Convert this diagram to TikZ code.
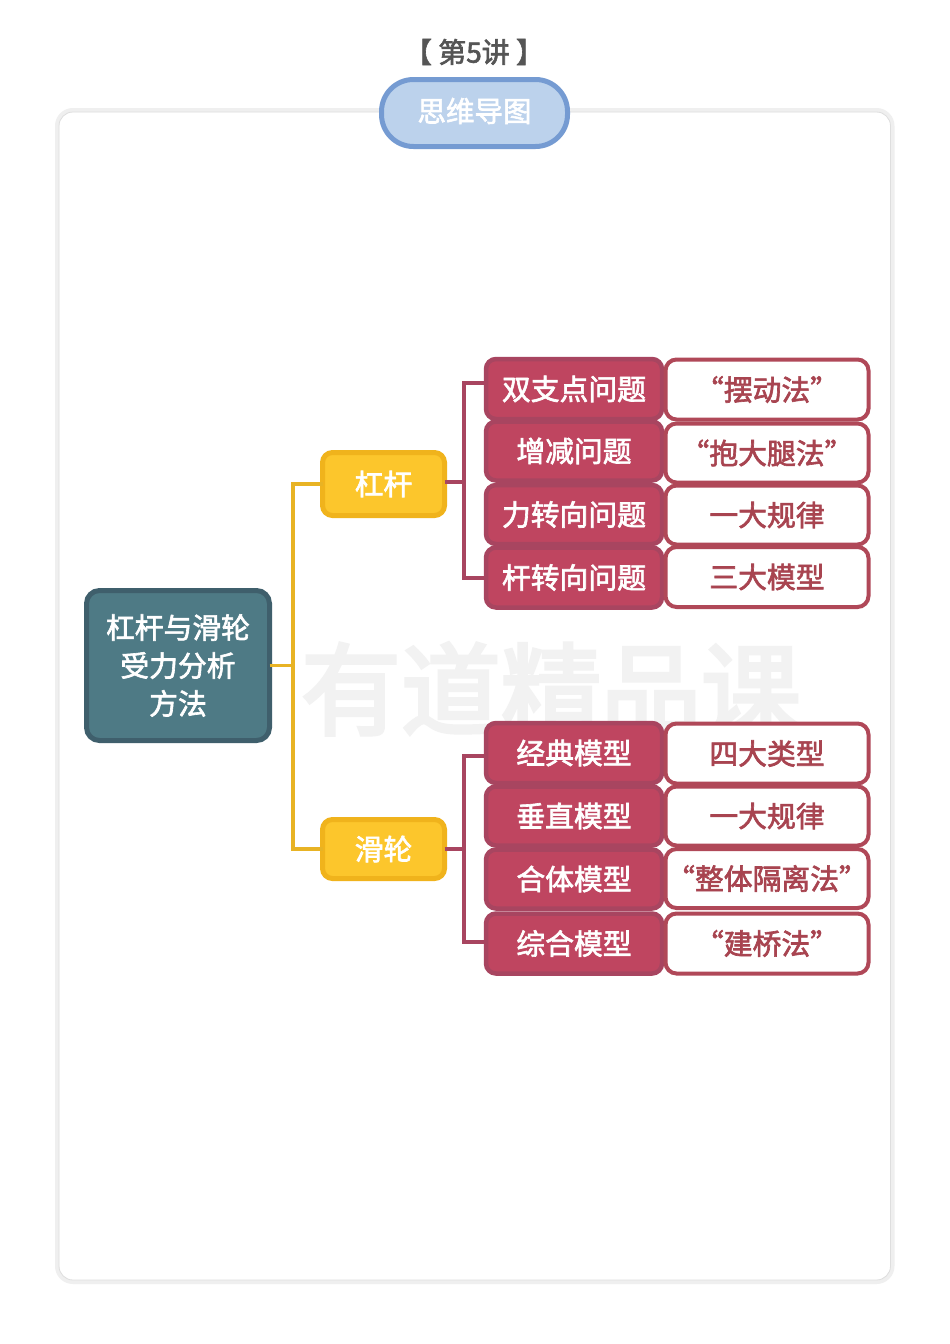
\documentclass[tikz,border=0pt]{standalone}
\usepackage{fontspec}
\setmainfont{Noto Sans CJK SC}
\newfontfamily\medcjk[FakeBold=2.2]{Noto Sans CJK SC}
\newfontfamily\heavycjk[FakeBold=3.5]{Noto Sans CJK SC}
\definecolor{framea}{HTML}{EFEFEF}
\definecolor{frameb}{HTML}{DEDEDE}
\definecolor{pillfill}{HTML}{BCD2EC}
\definecolor{pillline}{HTML}{759BD2}
\definecolor{rootfill}{HTML}{4E7A85}
\definecolor{rootline}{HTML}{3F5F6C}
\definecolor{yelfill}{HTML}{FCC62C}
\definecolor{yelline}{HTML}{F0B31C}
\definecolor{yelconn}{HTML}{E8B324}
\definecolor{redfill}{HTML}{BF4560}
\definecolor{redline}{HTML}{A84560}
\definecolor{whline}{HTML}{B04858}
\definecolor{whtext}{HTML}{A84450}
\definecolor{marktext}{HTML}{F2F2F2}
\definecolor{titletext}{HTML}{555555}
\tikzset{
  x=1pt,y=-1pt,
  base/.style={inner sep=0pt,outer sep=0pt,align=center,font=\medcjk\fontsize{28.8}{38}\selectfont},
  rootbox/.style={base,draw=rootline,fill=rootfill,text=white,line width=5pt,rounded corners=13pt,minimum width=183pt,minimum height=150pt},
  yelbox/.style={base,draw=yelline,fill=yelfill,text=white,line width=5pt,rounded corners=10pt,minimum width=122pt},
  redbox/.style={base,draw=redline,fill=redfill,text=white,line width=4.5pt,rounded corners=10pt,minimum width=176pt},
  whbox/.style={base,draw=whline,fill=white,text=whtext,line width=4pt,rounded corners=11pt,minimum width=203pt},
  yconn/.style={draw=yelconn,line width=3.5pt},
  rconn/.style={draw=redline,line width=4pt},
}
\begin{document}
\begin{tikzpicture}
\useasboundingbox (0,0) rectangle (950,1344);
\fill[white] (0,0) rectangle (950,1344);
% frame
\draw[framea,line width=4pt,rounded corners=16pt] (57,110) rectangle (892.5,1282);
\draw[frameb,line width=0.8pt,rounded corners=14pt] (59,112) rectangle (890.5,1280);
% watermark
\node[inner sep=0pt,text=marktext,font=\heavycjk\fontsize{100}{100}\selectfont] (mark) at (551,689) {有道精品课};
% title and badge
\node[inner sep=0pt,text=titletext,font=\medcjk\fontsize{28}{30}\selectfont] (title) at (474,52) {【 第5讲 】};
\node[base,draw=pillline,fill=pillfill,line width=5pt,rounded corners=32pt,minimum width=186pt,minimum height=67pt] (pill) at (474.5,113) {};
\node[inner sep=0pt,text=white,font=\medcjk\fontsize{28.5}{30}\selectfont] (pilltext) at (474.5,111) {思维导图};
% main nodes
\node[rootbox] (root) at (178,665.5) {杠杆与滑轮\\受力分析\\方法};
\node[yelbox,minimum height=63pt] (g) at (383.5,484) {杠杆};
\node[yelbox,minimum height=59pt] (h) at (383.5,849) {滑轮};
% connectors
\coordinate (sp) at (293,665.5);
\coordinate (c1) at (464,482);
\coordinate (c2) at (464,849);
\coordinate (u1) at (484,383);
\coordinate (u4) at (484,578);
\coordinate (l1) at (484,756);
\coordinate (l4) at (484,942);
\draw[yconn] (root.east) -- (sp);
\draw[yconn] (g.west) -| (sp) |- (h.west);
\draw[rconn] (g.east |- c1) -- (c1);
\draw[rconn] (h.east) -- (c2);
\draw[rconn] (u1) -| (c1) |- (u4);
\draw[rconn] (l1) -| (c2) |- (l4);
% upper rows
\node[redbox,minimum height=60pt] (a1) at (574,389) {双支点问题};
\node[redbox,minimum height=59pt] (a2) at (574,451) {增减问题};
\node[redbox,minimum height=59pt] (a3) at (574,514.5) {力转向问题};
\node[redbox,minimum height=60pt] (a4) at (574,577.5) {杆转向问题};
\node[whbox,minimum height=60pt] (w1) at (767,389.5) {“摆动法”};
\node[whbox,minimum height=59pt] (w2) at (767,453) {“抱大腿法”};
\node[whbox,minimum height=59pt] (w3) at (767,515) {一大规律};
\node[whbox,minimum height=60pt] (w4) at (767,577) {三大模型};
% lower rows
\node[redbox,minimum height=60pt] (b1) at (574,753) {经典模型};
\node[redbox,minimum height=59pt] (b2) at (574,816) {垂直模型};
\node[redbox,minimum height=59pt] (b3) at (574,879) {合体模型};
\node[redbox,minimum height=60pt] (b4) at (574,943.5) {综合模型};
\node[whbox,minimum height=60pt] (x1) at (767,753.5) {四大类型};
\node[whbox,minimum height=59pt] (x2) at (767,816) {一大规律};
\node[whbox,minimum height=59pt] (x3) at (767,878.5) {“整体隔离法”};
\node[whbox,minimum height=60pt] (x4) at (767,943.5) {“建桥法”};
\end{tikzpicture}
\end{document}
